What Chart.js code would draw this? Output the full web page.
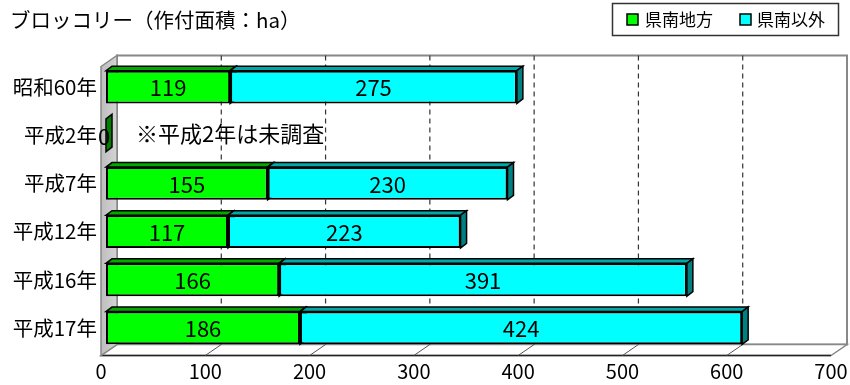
<!DOCTYPE html>
<html><head><meta charset="utf-8">
<script src="https://cdn.jsdelivr.net/npm/chart.js@4/dist/chart.umd.min.js"></script>
<style>html,body{margin:0;padding:0;background:#fff;}canvas{display:block;}</style>
</head><body>
<canvas id="c" width="850" height="385"></canvas>
<script>
const title = 'ブロッコリー（作付面積：ha）';
const note = '※平成2年は未調査';
const categories = ['昭和60年', '平成2年', '平成7年', '平成12年', '平成16年', '平成17年'];
const seriesNames = ['県南地方', '県南以外'];
const kennanChiho = [119, 0, 155, 117, 166, 186];
const kennanIgai = [275, null, 230, 223, 391, 424];
const xMin = 0, xMax = 700, xStep = 100;

const FONT = '"Noto Sans CJK JP", "Noto Sans", sans-serif';
const FRONT = {dx: -5, dy: 3.5};
const BACK = {dx: 11, dy: -7.5};
const BAR_D = {dx: 6, dy: -4.5};
const faceColors = [
  {front: '#00ff00', top: '#00a800', side: '#008000'},
  {front: '#00ffff', top: '#00a8a8', side: '#008080'}
];

function poly(ctx, pts, fill, stroke, lw) {
  ctx.beginPath();
  ctx.moveTo(pts[0][0], pts[0][1]);
  for (let i = 1; i < pts.length; i++) ctx.lineTo(pts[i][0], pts[i][1]);
  ctx.closePath();
  if (fill) { ctx.fillStyle = fill; ctx.fill(); }
  if (stroke) { ctx.strokeStyle = stroke; ctx.lineWidth = lw || 1; ctx.stroke(); }
}

const frame3d = {
  id: 'frame3d',
  beforeDatasetsDraw(chart) {
    const {ctx, chartArea: a, scales} = chart;
    const xs = scales.x;
    ctx.save();
    // back wall
    poly(ctx, [[a.left + BACK.dx, a.top + BACK.dy], [a.right + BACK.dx, a.top + BACK.dy],
               [a.right + BACK.dx, a.bottom + BACK.dy], [a.left + BACK.dx, a.bottom + BACK.dy]], '#ffffff', '#888888', 2);
    // floor
    poly(ctx, [[a.left + FRONT.dx, a.bottom + FRONT.dy], [a.right + FRONT.dx, a.bottom + FRONT.dy],
               [a.right + BACK.dx, a.bottom + BACK.dy], [a.left + BACK.dx, a.bottom + BACK.dy]], '#ffffff', '#888888', 1.5);
    ctx.beginPath();
    ctx.moveTo(a.left + FRONT.dx, a.bottom + FRONT.dy);
    ctx.lineTo(a.right + FRONT.dx, a.bottom + FRONT.dy);
    ctx.strokeStyle = '#222'; ctx.lineWidth = 1.5; ctx.stroke();
    // gridlines on back wall (dashed) and floor
    for (let v = xMin + xStep; v < xMax; v += xStep) {
      const px = xs.getPixelForValue(v);
      ctx.beginPath();
      ctx.setLineDash([5, 4]);
      ctx.moveTo(px + BACK.dx, a.top + BACK.dy);
      ctx.lineTo(px + BACK.dx, a.bottom + BACK.dy);
      ctx.strokeStyle = '#333'; ctx.lineWidth = 1.2; ctx.stroke();
      ctx.setLineDash([]);
      ctx.beginPath();
      ctx.moveTo(px + BACK.dx, a.bottom + BACK.dy);
      ctx.lineTo(px + FRONT.dx, a.bottom + FRONT.dy);
      ctx.strokeStyle = '#555'; ctx.lineWidth = 1; ctx.stroke();
    }
    // left wall
    const g = ctx.createLinearGradient(a.left + FRONT.dx, 0, a.left + BACK.dx, 0);
    g.addColorStop(0, '#bdbdbd'); g.addColorStop(1, '#d4d4d4');
    poly(ctx, [[a.left + FRONT.dx, a.top + FRONT.dy], [a.left + BACK.dx, a.top + BACK.dy],
               [a.left + BACK.dx, a.bottom + BACK.dy], [a.left + FRONT.dx, a.bottom + FRONT.dy]], g, '#888888', 1.5);
    // 3D faces of bars
    chart.data.labels.forEach((_, i) => {
      chart.data.datasets.forEach((ds, di) => {
        const v = ds.data[i];
        if (v === null || v === undefined) return;
        const el = chart.getDatasetMeta(di).data[i];
        if (!el) return;
        const x0 = Math.min(el.x, el.base), x1 = Math.max(el.x, el.base);
        const h = el.height;
        const yt = el.y - h / 2, yb = el.y + h / 2;
        const c = faceColors[di];
        if (x1 > x0) {
          poly(ctx, [[x0, yt], [x1, yt], [x1 + BAR_D.dx, yt + BAR_D.dy], [x0 + BAR_D.dx, yt + BAR_D.dy]], c.top, '#000', 1.5);
        }
        poly(ctx, [[x1, yt], [x1 + BAR_D.dx, yt + BAR_D.dy], [x1 + BAR_D.dx, yb + BAR_D.dy], [x1, yb]], c.side, '#000', 1.5);
      });
    });
    ctx.restore();
  },
  afterDatasetsDraw(chart) {
    const {ctx} = chart;
    ctx.save();
    ctx.fillStyle = '#000';
    ctx.font = '22px ' + FONT;
    ctx.textAlign = 'center';
    ctx.textBaseline = 'middle';
    chart.data.datasets.forEach((ds, di) => {
      chart.getDatasetMeta(di).data.forEach((el, i) => {
        const v = ds.data[i];
        if (v === null || v === undefined) return;
        ctx.fillText(String(v), (el.x + el.base) / 2 - (v === 0 ? 2 : 0), el.y + 1);
      });
    });
    // note
    const ys = chart.scales.y;
    ctx.font = '22px ' + FONT;
    ctx.textAlign = 'left';
    ctx.fillText(note, 136, ys.getPixelForValue(1) - 2);
    ctx.restore();
  },
  afterDraw(chart) {
    const {ctx} = chart;
    ctx.save();
    // title
    ctx.fillStyle = '#000';
    ctx.font = '20.5px ' + FONT;
    ctx.textAlign = 'left';
    ctx.textBaseline = 'middle';
    ctx.fillText(title, 10, 20);
    // legend
    ctx.strokeStyle = '#333'; ctx.lineWidth = 1.5;
    ctx.strokeRect(612.5, 3.5, 226, 32);
    ctx.font = '17px ' + FONT;
    const items = [{x: 627, tx: 645}, {x: 740, tx: 757}];
    items.forEach((it, k) => {
      ctx.fillStyle = faceColors[k].front;
      ctx.fillRect(it.x, 14, 11, 11);
      ctx.strokeStyle = '#000'; ctx.lineWidth = 1.5;
      ctx.strokeRect(it.x, 14, 11, 11);
      ctx.fillStyle = '#000';
      ctx.fillText(seriesNames[k], it.tx, 20);
    });
    ctx.restore();
  }
};

new Chart(document.getElementById('c'), {
  type: 'bar',
  data: {
    labels: categories,
    datasets: [
      {label: seriesNames[0], data: kennanChiho, backgroundColor: faceColors[0].front, borderColor: '#000', borderWidth: 2, borderSkipped: false},
      {label: seriesNames[1], data: kennanIgai, backgroundColor: faceColors[1].front, borderColor: '#000', borderWidth: 2, borderSkipped: false}
    ]
  },
  options: {
    indexAxis: 'y',
    responsive: false,
    devicePixelRatio: 1,
    animation: false,
    layout: {padding: {left: 0, right: 14, top: 63, bottom: 0}},
    datasets: {bar: {barPercentage: 0.68, categoryPercentage: 1.0}},
    plugins: {legend: {display: false}, tooltip: {enabled: false}, title: {display: false}},
    scales: {
      x: {
        stacked: true, min: xMin, max: xMax,
        grid: {display: false, drawTicks: false},
        border: {display: false},
        ticks: {stepSize: xStep, color: '#000', font: {family: FONT, size: 20}, padding: 7, labelOffset: -5, maxRotation: 0},
        afterFit(s) { s.height = 33; s.paddingLeft = 0; s.paddingRight = 0; }
      },
      y: {
        stacked: true,
        grid: {display: false, drawTicks: false},
        border: {display: false},
        ticks: {color: '#000', font: {family: FONT, size: 20.5}, padding: 9},
        afterFit(s) { s.width = 106; s.paddingTop = 0; s.paddingBottom = 0; }
      }
    }
  },
  plugins: [frame3d]
});
</script>
</body></html>
